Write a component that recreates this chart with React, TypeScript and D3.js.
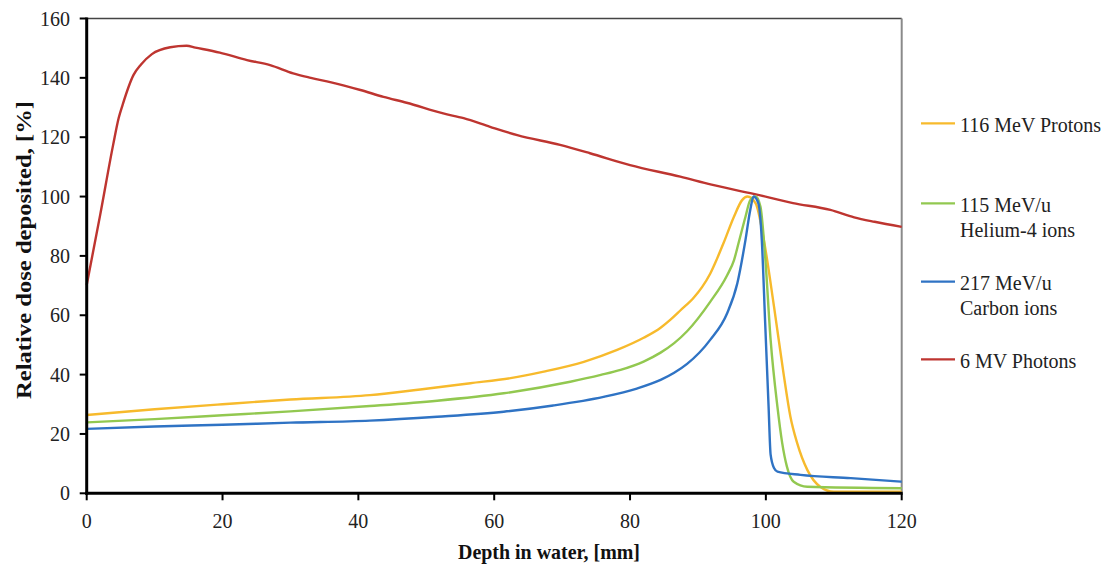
import React from "react";
import * as d3 from "d3";

// ---- data (depth mm, relative dose %) ----
const protonDepth = [0, 10, 20, 30, 41.7, 49.1, 56.5, 62.4, 67.3, 73.2, 78.1, 82, 84.5, 86, 87.4, 89.4, 90.6, 91.8, 92.8, 93.8, 95.3, 96.5, 97.3, 98.5, 99.7, 101.2, 102.6, 103.6, 104.6, 106.1, 108, 110, 120];
const protonDose = [26.4, 28.3, 30, 31.6, 33.1, 35, 37.1, 38.8, 41, 44.3, 48.3, 52.4, 55.8, 58.6, 61.6, 66, 69.5, 74, 79, 84.5, 93.2, 98.8, 100, 97.7, 85.4, 62.9, 40.4, 26, 17, 7.9, 2.2, 0.5, 0.5];

const heliumDepth = [0, 10, 20, 30, 41.7, 51.6, 61.4, 71.2, 75.7, 78.6, 82, 84.5, 86.5, 88.4, 91.8, 94.3, 95.3, 96, 97, 97.7, 98.5, 99.2, 99.9, 100.7, 101.7, 102.4, 103.1, 104.1, 106.1, 120];
const heliumDose = [23.9, 25, 26.3, 27.6, 29.4, 31.2, 33.7, 37.6, 39.9, 41.6, 44.4, 47.4, 50.6, 54.6, 64.5, 73.5, 78.5, 84.5, 93.2, 98.8, 100, 96.6, 79.7, 51.7, 29.2, 17, 9, 3.9, 2.2, 1.7];

const carbonDepth = [0, 10, 20, 30, 41.7, 51.6, 61.4, 68.7, 76.1, 81, 84.5, 86.5, 88.4, 91.8, 94.3, 95.8, 97, 97.7, 98.2, 98.9, 99.4, 99.9, 100.4, 100.7, 101.2, 101.7, 105.1, 112.5, 120];
const carbonDose = [21.7, 22.5, 23.1, 23.8, 24.5, 25.8, 27.5, 29.6, 32.5, 35.3, 38.2, 40.6, 43.6, 51.7, 60.7, 70.8, 85.4, 95.5, 100, 97.7, 85.4, 57.3, 29.2, 13, 8.5, 7.3, 6.2, 5.1, 3.9];

const photonDepth = [0, 2, 3.9, 4.7, 5.3, 6.9, 8, 9.6, 12.3, 14.7, 16, 19.6, 23.6, 27, 30.4, 33, 36, 40.3, 43.7, 47.1, 52.5, 55.5, 59.4, 63.4, 69.7, 74.1, 80, 87.4, 92, 98.2, 104, 109.5, 113, 116, 120];
const photonDose = [70.2, 94, 117.5, 126.4, 131, 141, 144.5, 148, 150.3, 150.8, 150.2, 148.5, 146, 144.3, 141.5, 140, 138.5, 135.9, 133.6, 131.6, 128, 126.4, 123.5, 120.7, 117.4, 114.6, 110.6, 106.7, 104, 100.9, 97.8, 95.5, 93, 91.5, 89.8];

const xTicks = [0, 20, 40, 60, 80, 100, 120];
const yTicks = [0, 20, 40, 60, 80, 100, 120, 140, 160];

const seriesNames = [["116 MeV Protons"], ["115 MeV/u", "Helium-4 ions"], ["217 MeV/u", "Carbon ions"], ["6 MV Photons"]];
const seriesColors = ["#F7BA2C", "#92C850", "#2F73C4", "#BE3530"];

export default function App() {
  const W = 1107, H = 567;
  const x0 = 86.7, x1 = 901.7, y0 = 493.3, y1 = 18.5;
  const x = d3.scaleLinear().domain([0, 120]).range([x0, x1]);
  const y = d3.scaleLinear().domain([0, 160]).range([y0, y1]);
  const font = "'Liberation Serif', 'Times New Roman', serif";

  const mk = (xs: number[], ys: number[]) => xs.map((d, i) => [d, ys[i]] as [number, number]);
  const smooth = d3.line<[number, number]>().x(d => x(d[0])).y(d => y(d[1])).curve(d3.curveMonotoneX);

  const ions = [mk(protonDepth, protonDose), mk(heliumDepth, heliumDose), mk(carbonDepth, carbonDose)];
  const photon = mk(photonDepth, photonDose);

  const legendLineY = [123.3, 203.3, 281.7, 359.3];

  return (
    <svg width={W} height={H} style={{ position: "absolute", left: 0, top: 0, background: "#fff" }} fontFamily={font}>
      <rect x={0} y={0} width={W} height={H} fill="#fff" />
      {/* frame */}
      <line x1={x0} x2={x1} y1={y1} y2={y1} stroke="#444" strokeWidth={1.3} />
      <line x1={x1} x2={x1} y1={y1} y2={y0} stroke="#8a8a8a" strokeWidth={2} />
      {/* curves */}
      <path d={smooth(photon) || ""} fill="none" stroke={seriesColors[3]} strokeWidth={2.4} strokeLinejoin="round" />
      {ions.map((s, i) => (
        <path key={i} d={smooth(s) || ""} fill="none" stroke={seriesColors[i]} strokeWidth={2.4} strokeLinejoin="round" />
      ))}
      {/* axes */}
      <line x1={x0} x2={x0} y1={y1 - 1} y2={y0 + 1.5} stroke="#000" strokeWidth={3} />
      <line x1={x0 - 1.5} x2={x1 + 1} y1={y0} y2={y0} stroke="#000" strokeWidth={3} />
      {yTicks.map(t => (
        <g key={"y" + t}>
          <line x1={x0 - 7} x2={x0} y1={y(t)} y2={y(t)} stroke="#000" strokeWidth={2} />
          <text x={70} y={y(t) + 7} textAnchor="end" fontSize={20} fill="#222">{t}</text>
        </g>
      ))}
      {xTicks.map(t => (
        <g key={"x" + t}>
          <line x1={x(t)} x2={x(t)} y1={y0} y2={y0 + 7} stroke="#000" strokeWidth={2} />
          <text x={x(t)} y={528} textAnchor="middle" fontSize={20} fill="#222">{t}</text>
        </g>
      ))}
      {/* axis titles */}
      <text x={549} y={559} textAnchor="middle" fontSize={21} fontWeight="bold" fill="#111" textLength={182} lengthAdjust="spacingAndGlyphs">Depth in water, [mm]</text>
      <text transform="translate(31,250) rotate(-90)" textAnchor="middle" fontSize={22} fontWeight="bold" fill="#111" textLength={298} lengthAdjust="spacingAndGlyphs">Relative dose deposited, [%]</text>
      {/* legend */}
      {seriesNames.map((lines, i) => (
        <g key={"l" + i}>
          <line x1={921} x2={955} y1={legendLineY[i]} y2={legendLineY[i]} stroke={seriesColors[i]} strokeWidth={2.2} />
          {lines.map((ln, j) => (
            <text key={j} x={960} y={legendLineY[i] + 8.5 + j * 25} fontSize={20} fill="#222">{ln}</text>
          ))}
        </g>
      ))}
    </svg>
  );
}
